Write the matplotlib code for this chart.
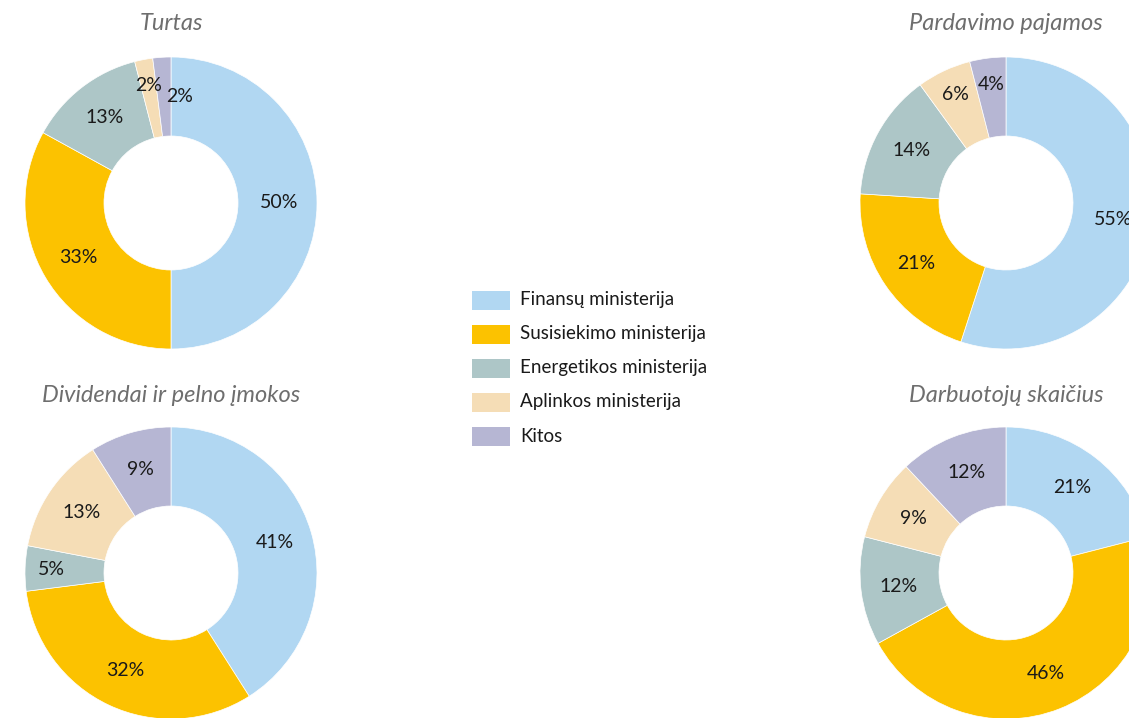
import matplotlib
matplotlib.use('Agg')
import numpy as np
import matplotlib.pyplot as plt
from matplotlib.patches import Rectangle

plt.rcParams['font.family'] = ['Lato', 'DejaVu Sans']

categories = ['Finansų ministerija', 'Susisiekimo ministerija', 'Energetikos ministerija',
              'Aplinkos ministerija', 'Kitos']
colors = ['#b1d7f2', '#fcc200', '#adc6c7', '#f5ddb6', '#b6b6d3']

titles = ['Turtas', 'Pardavimo pajamos', 'Dividendai ir pelno įmokos', 'Darbuotojų skaičius']
turtas = [50, 33, 13, 2, 2]
pardavimo_pajamos = [55, 21, 14, 6, 4]
dividendai = [41, 32, 5, 13, 9]
darbuotojai = [21, 46, 12, 9, 12]
series = [turtas, pardavimo_pajamos, dividendai, darbuotojai]

W, H = 1129, 718
fig = plt.figure(figsize=(W / 100, H / 100), dpi=100)
ax = fig.add_axes([0, 0, 1, 1])

# donut centres in pixel coords (y measured from top), title rows
centres = [(171, 203), (1006, 203), (171, 573), (1006, 573)]
title_rows = [24, 24, 396, 396]
R = 146
hole = 67

for (cx, cy), ty, title, vals in zip(centres, title_rows, titles, series):
    y = H - cy
    wedges, texts, autotexts = ax.pie(
        vals, colors=colors, startangle=90, counterclock=False,
        center=(cx, y), radius=R, autopct=lambda p: f'{p:.0f}%',
        pctdistance=0.74, frame=True,
        wedgeprops=dict(width=R - hole, edgecolor='white', linewidth=0.5),
        textprops=dict(fontsize=14, color='#1a1a1a'))
    # small slices: push the label outwards
    for v, w, t in zip(vals, wedges, autotexts):
        if v < 7:
            ang = np.deg2rad((w.theta1 + w.theta2) / 2)
            t.set_position((cx + 0.82 * R * np.cos(ang), y + 0.82 * R * np.sin(ang)))
    if title == 'Turtas':
        # last small slice label sits beside the wedge
        autotexts[4].set_position((cx + 9, y + 107))
    ax.text(cx, H - ty, title, ha='center', va='center', fontsize=17,
            style='italic', color='#6e6e6e')

# legend
for i, (name, c) in enumerate(zip(categories, colors)):
    ly = H - (300 + 34 * i)
    ax.add_patch(Rectangle((472, ly - 9.5), 38, 19, facecolor=c, edgecolor='none'))
    ax.text(520, ly, name, ha='left', va='center', fontsize=13.5, color='#1a1a1a')

ax.set_xlim(0, W)
ax.set_ylim(0, H)
ax.set_aspect('auto')
ax.axis('off')

fig.savefig('out.png', dpi=100, facecolor='white')
